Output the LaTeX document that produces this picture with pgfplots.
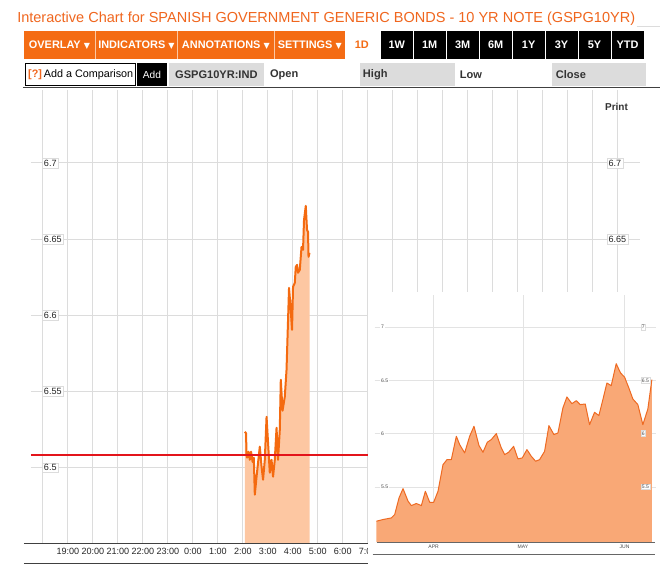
\documentclass[border=0pt]{standalone}
\usepackage{pgfplots}
\pgfplotsset{compat=1.18}
\usepackage{pgfplotstable}
\usepackage{fontspec}
\setmainfont{Liberation Sans}
\newfontfamily\dejavu{DejaVu Sans}
\definecolor{titleor}{HTML}{F0661E}
\definecolor{btnor}{HTML}{F46C14}
\definecolor{btnsep}{HTML}{FBC8A4}
\definecolor{lineor}{HTML}{F46A10}
\definecolor{fillor}{HTML}{FDC7A2}
\definecolor{insetfill}{HTML}{F9A876}
\definecolor{insetline}{HTML}{EE6A22}
\definecolor{gridc}{HTML}{DCDCDC}
\definecolor{boxgray}{HTML}{DCDCDC}
\definecolor{redline}{HTML}{E3141B}
\definecolor{txt}{HTML}{333333}
\newcommand{\fs}[1]{\fontsize{#1}{#1}\selectfont}

\pgfplotstableread{
t v
26.08 6.5236
26.13 6.5226
26.147 6.5085
26.17 6.5066
26.23 6.5105
26.28 6.5052
26.33 6.5105
26.39 6.5039
26.44 6.5066
26.48 6.4823
26.55 6.4941
26.61 6.5033
26.68 6.5138
26.75 6.5007
26.81 6.4921
26.88 6.5052
26.95 6.5334
27.01 6.5164
27.08 6.4967
27.15 6.5052
27.21 6.4941
27.28 6.5052
27.35 6.5262
27.41 6.5052
27.48 6.5249
27.52 6.5577
27.59 6.5374
27.68 6.5466
27.75 6.5643
27.78 6.5807
27.85 6.6180
27.91 6.6056
27.97 6.5905
28.01 6.6187
28.08 6.6213
28.12 6.6318
28.17 6.6331
28.21 6.6279
28.28 6.6298
28.35 6.6449
28.41 6.6430
28.45 6.6626
28.52 6.6718
28.57 6.6561
28.61 6.6548
28.63 6.6384
28.67 6.6410
}\intraday

\pgfplotstableread{
d v
50 5.178
70 5.194
95 5.209
105 5.241
118 5.397
130 5.484
145 5.366
155 5.325
170 5.344
185 5.325
197 5.459
210 5.356
222 5.356
235 5.459
250 5.709
262 5.756
275 5.756
290 5.975
300 5.897
315 5.819
330 5.975
343 6.069
358 5.888
370 5.825
383 5.919
395 5.944
410 6.000
425 5.866
435 5.803
447 5.825
462 5.881
475 5.763
488 5.772
502 5.850
515 5.788
528 5.741
540 5.756
555 5.834
568 6.075
583 5.991
595 6.006
610 6.241
622 6.344
637 6.281
650 6.309
662 6.272
677 6.278
690 6.084
705 6.200
718 6.169
730 6.319
742 6.475
755 6.450
770 6.656
783 6.569
795 6.531
808 6.428
820 6.325
835 6.272
850 6.084
865 6.231
877 6.506
}\history

\begin{document}
\begin{tikzpicture}
\begin{scope}[x=0.75pt,y=-0.75pt]
\useasboundingbox (0,0) rectangle (660,578);
\fill[white] (0,0) rectangle (660,578);
\end{scope}

% ---------- main intraday chart ----------
\begin{axis}[
  at={(23.25pt,-408pt)}, anchor=south west,
  scale only axis, width=456.75pt, height=340.5pt,
  xmin=17.52, xmax=41.88, ymin=6.4502, ymax=6.7479,
  axis line style={draw=none},
  major tick style={draw=none},
  xtick={18,...,41},
  xticklabels={,19:00,20:00,21:00,22:00,23:00,0:00,1:00,2:00,3:00,4:00,5:00,6:00,7:00},
  xticklabel style={font=\fs{6.8}, text=black!85, inner sep=0pt, anchor=north, yshift=-3pt},
  ytick={6.5,6.55,6.6,6.65,6.7},
  yticklabels={},
  grid=major,
  major grid style={gridc, line width=0.75pt},
]
\addplot[fill=fillor, draw=none] table[x=t,y=v]{\intraday} \closedcycle;
\addplot[lineor, line width=1.5pt, line join=round] table[x=t,y=v]{\intraday};
\addplot[redline, line width=1.5pt] coordinates {(17.52,6.5085) (41.88,6.5085)};
\pgfplotsinvokeforeach{6.5,6.55,6.6,6.65,6.7}{
  \node[anchor=west, draw=gridc, fill=white, inner sep=1.3pt, font=\fs{6.8}, text=black!85] at (axis cs:17.96,#1) {#1};
}
\pgfplotsinvokeforeach{6.65,6.7}{
  \node[anchor=west, draw=gridc, fill=white, inner sep=1.3pt, font=\fs{6.8}, text=black!85] at (axis cs:40.56,#1) {#1};
}
\end{axis}

\begin{scope}[x=0.75pt,y=-0.75pt]
\draw[black!75, line width=0.75pt] (24,544) -- (368,544);
\draw[black!75, line width=0.75pt] (24,564) -- (368,564);
\node[font=\bfseries\fs{7.5}, text=txt] at (617,107) {Print};
\fill[white] (368.6,292) rectangle (660,578);
\end{scope}

% ---------- inset history chart ----------
\begin{axis}[
  at={(281.25pt,-406.725pt)}, anchor=south west,
  scale only axis, width=211.25pt, height=185.5pt,
  xmin=45, xmax=890, ymin=4.984, ymax=7.303,
  axis line style={draw=none},
  major tick style={draw=none},
  xtick={222,490,795}, xticklabels={APR,MAY,JUN},
  xticklabel style={font=\fs{3.8}, text=black!70, inner sep=0pt, anchor=north, yshift=-2.5pt},
  ytick={5.5,6,6.5,7}, yticklabels={},
  grid=major,
  major grid style={gridc!80, line width=0.4pt},
]
\addplot[fill=insetfill, draw=none] table[x=d,y=v]{\history} \closedcycle;
\addplot[insetline, line width=0.75pt, line join=round] table[x=d,y=v]{\history};
\pgfplotsinvokeforeach{5.5,6,6.5,7}{
  \node[anchor=west, fill=white, inner sep=0.8pt, font=\fs{3.8}, text=black!70] at (axis cs:60,#1) {#1};
  \node[anchor=west, draw=gridc, fill=white, inner sep=0.8pt, font=\fs{3.8}, text=black!70] at (axis cs:843,#1) {#1};
}
\end{axis}

\begin{scope}[x=0.75pt,y=-0.75pt]
\draw[black!60, line width=0.5pt] (377,542.3) -- (655,542.3);
\draw[black!60, line width=0.5pt] (373,554.3) -- (655,554.3);

% ---------- header ----------
\node[anchor=base west, text=titleor, font=\fs{10.9}, inner sep=0pt] at (17,23) {Interactive Chart for SPANISH GOVERNMENT GENERIC BONDS - 10 YR NOTE (GSPG10YR)};
\draw[gridc, line width=0.75pt] (637,27) -- (660,27);

\fill[btnor] (24,31) rectangle (345,59);
\foreach \s in {95.5,177.5,274.5} \draw[btnsep, line width=0.75pt] (\s,31) -- (\s,59);
\foreach \c/\l in {59.5/OVERLAY,136.5/INDICATORS,226/ANNOTATIONS,310/SETTINGS}
  \node[text=white, font=\bfseries\fs{8.2}, inner sep=0pt] at (\c,45) {\l\ {\dejavu\fs{6}▼}};
\node[text=btnor, font=\bfseries\fs{8.2}] at (362,45) {1D};
\foreach \l [count=\i from 0] in {1W,1M,3M,6M,1Y,3Y,5Y,YTD} {
  \fill[black] ({381+33*\i},31) rectangle ({413+33*\i},59);
  \node[text=white, font=\bfseries\fs{8.2}] at ({397+33*\i},45) {\l};
}

\draw[black, line width=0.75pt, fill=white] (25.5,63.5) rectangle (135.5,85.5);
\node[anchor=west, inner sep=0pt, font=\fs{8.1}] at (28,74.5) {\textcolor{titleor}{\bfseries[?]}\,Add a Comparison};
\fill[black] (137,63) rectangle (167,86);
\node[text=white, font=\fs{7.6}] at (152,74.5) {Add};
\fill[boxgray] (169,63) rectangle (264,86);
\node[text=txt, font=\bfseries\fs{8.3}] at (216.5,74.5) {GSPG10YR:IND};
\node[anchor=west, inner sep=0pt, text=txt, font=\bfseries\fs{8.3}] at (270,74.5) {Open};
\fill[boxgray] (360,63) rectangle (455,86);
\node[anchor=west, inner sep=0pt, text=txt, font=\bfseries\fs{8.3}] at (363,74.5) {High};
\node[anchor=west, inner sep=0pt, text=txt, font=\bfseries\fs{8.3}] at (460,74.5) {Low};
\fill[boxgray] (552,63) rectangle (646,86);
\node[anchor=west, inner sep=0pt, text=txt, font=\bfseries\fs{8.3}] at (556,74.5) {Close};
\draw[black!75, line width=0.75pt] (23,88) -- (660,88);
\end{scope}
\end{tikzpicture}
\end{document}
